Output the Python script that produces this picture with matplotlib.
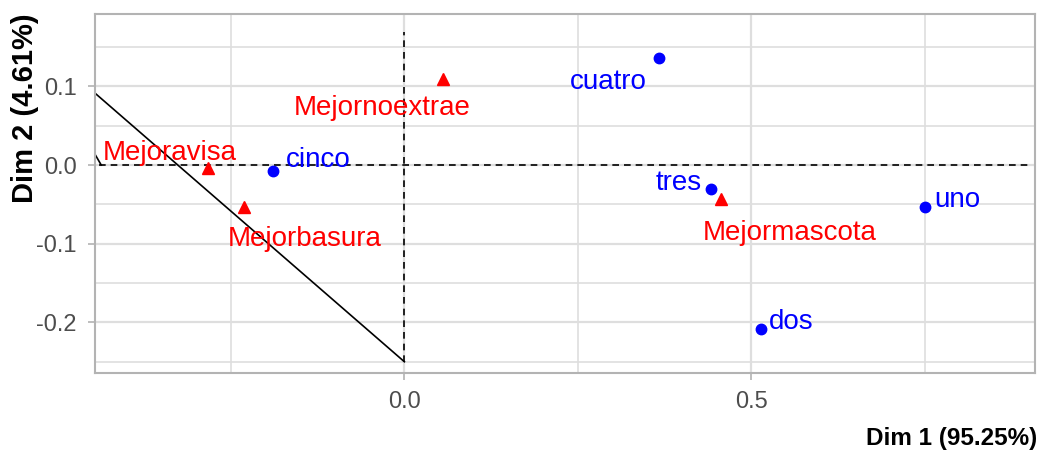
import matplotlib.pyplot as plt

# row points (blue)
row_names = ['uno', 'dos', 'tres', 'cuatro', 'cinco']
row_x = [0.750, 0.514, 0.442, 0.367, -0.189]
row_y = [-0.053, -0.208, -0.030, 0.136, -0.008]
row_lx = [0.797, 0.558, 0.395, 0.294, -0.124]
row_ly = [-0.044, -0.200, -0.023, 0.105, 0.006]

# column points (red)
col_names = ['Mejoravisa', 'Mejorbasura', 'Mejornoextrae', 'Mejormascota']
col_x = [-0.283, -0.231, 0.056, 0.456]
col_y = [-0.004, -0.053, 0.109, -0.043]
col_lx = [-0.338, -0.143, -0.032, 0.556]
col_ly = [0.015, -0.094, 0.073, -0.086]

# reference lines
hline_x = [-0.44, 0.90]
vline_y = [-0.25, 0.169]
line1_x = [-0.52, 0.0]
line1_y = [0.148, -0.25]
line2_x = [-0.46, -0.437]
line2_y = [0.035, 0.0]

plt.rcParams['font.family'] = ['Liberation Sans', 'DejaVu Sans']

fig = plt.figure(figsize=(10.39, 4.5), dpi=100)
ax = fig.add_axes([0.0914, 0.1704, 0.9048, 0.7985])

ax.set_xlim(-0.446, 0.909)
ax.set_ylim(-0.2647, 0.1919)

grid_c = '#dedede'
for gx in [-0.25, 0.25, 0.75]:
    ax.axvline(gx, color=grid_c, lw=1.2, zorder=0)
for gx in [0.0, 0.5]:
    ax.axvline(gx, color=grid_c, lw=1.6, zorder=0)
for gy in [0.15, 0.05, -0.05, -0.15, -0.25]:
    ax.axhline(gy, color=grid_c, lw=1.2, zorder=0)
for gy in [0.1, 0.0, -0.1, -0.2]:
    ax.axhline(gy, color=grid_c, lw=1.6, zorder=0)

ax.plot(hline_x, [0, 0], color='black', ls=(0, (4, 3)), lw=1.2, zorder=1)
ax.plot([0, 0], vline_y, color='black', ls=(0, (4, 3)), lw=1.2, zorder=1)
ax.plot(line1_x, line1_y, color='black', lw=1.2, zorder=1)
ax.plot(line2_x, line2_y, color='black', lw=1.2, zorder=1)

ax.plot(row_x, row_y, 'o', color='blue', ms=7.5, ls='none', zorder=3)
ax.plot(col_x, col_y, '^', color='red', ms=8, ls='none', zorder=3)

for n, x, y in zip(row_names, row_lx, row_ly):
    ax.text(x, y, n, color='blue', fontsize=20, ha='center', va='center', zorder=4)
for n, x, y in zip(col_names, col_lx, col_ly):
    ax.text(x, y, n, color='red', fontsize=20, ha='center', va='center', zorder=4)

ax.set_xticks([0.0, 0.5])
ax.set_xticklabels(['0.0', '0.5'])
ax.set_yticks([0.1, 0.0, -0.1, -0.2])
ax.set_yticklabels(['0.1', '0.0', '-0.1', '-0.2'])
ax.tick_params(colors='#b3b3b3', labelcolor='#4d4d4d', labelsize=17, length=5, width=1.2, pad=8)

for s in ax.spines.values():
    s.set_color('#b3b3b3')
    s.set_linewidth(1.5)

fig.text(1037 / 1039, 1 - 439 / 450, 'Dim 1 (95.25%)', fontsize=17.5, fontweight='bold',
         ha='right', va='center')
fig.text(25 / 1039, 1 - 13 / 450, 'Dim 2 (4.61%)', fontsize=21, fontweight='bold',
         rotation=90, ha='center', va='top')

fig.savefig('out.png', dpi=100)
